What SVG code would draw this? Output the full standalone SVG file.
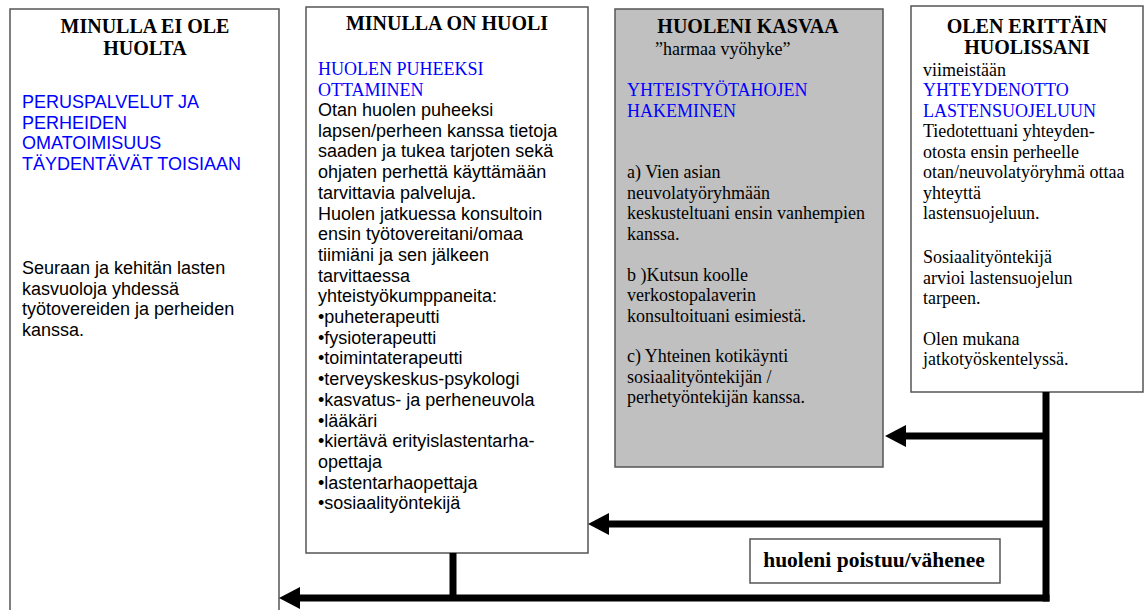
<svg xmlns="http://www.w3.org/2000/svg" width="1144" height="610" viewBox="0 0 1144 610">
<defs>
<style>
.box{fill:#fff;stroke:#555;stroke-width:1.5}
.gray{fill:#c0c0c0;stroke:#555;stroke-width:1.5}
.title{font-family:"Liberation Serif",serif;font-weight:bold;font-size:20px;fill:#000;text-anchor:middle}
.sans{font-family:"Liberation Sans",sans-serif;font-size:18px;fill:#000}
.serif{font-family:"Liberation Serif",serif;font-size:18px;fill:#000}
.blue{fill:#0000ff}
.conn{stroke:#000;stroke-width:7;fill:none}
</style>
<marker id="arr" markerUnits="userSpaceOnUse" markerWidth="22" markerHeight="24" refX="0" refY="12" orient="auto" viewBox="0 0 22 24">
<path d="M0,1 L21,12 L0,23 z" fill="#000"/>
</marker>
</defs>

<g id="node-ei-huolta">
<rect class="box" x="10" y="9" width="269" height="620"/>
<text class="title" x="145" y="33">MINULLA EI OLE</text>
<text class="title" x="145" y="55">HUOLTA</text>
<text class="sans blue" x="22" y="108">PERUSPALVELUT JA</text>
<text class="sans blue" x="22" y="128.5">PERHEIDEN</text>
<text class="sans blue" x="22" y="149">OMATOIMISUUS</text>
<text class="sans blue" x="22" y="169.5">TÄYDENTÄVÄT TOISIAAN</text>
<text class="sans" x="22" y="274">Seuraan ja kehitän lasten</text>
<text class="sans" x="22" y="294.5">kasvuoloja yhdessä</text>
<text class="sans" x="22" y="315">työtovereiden ja perheiden</text>
<text class="sans" x="22" y="335.5">kanssa.</text>
</g>

<g id="node-on-huoli">
<rect class="box" x="306" y="7" width="282" height="546"/>
<text class="title" x="447" y="30">MINULLA ON HUOLI</text>
<text class="serif blue" x="318" y="75">HUOLEN PUHEEKSI</text>
<text class="serif blue" x="318" y="95.5">OTTAMINEN</text>
<text class="sans" x="318" y="116">Otan huolen puheeksi</text>
<text class="sans" x="318" y="136.7">lapsen/perheen kanssa tietoja</text>
<text class="sans" x="318" y="157.4">saaden ja tukea tarjoten sekä</text>
<text class="sans" x="318" y="178.1">ohjaten perhettä käyttämään</text>
<text class="sans" x="318" y="198.8">tarvittavia palveluja.</text>
<text class="sans" x="318" y="219.5">Huolen jatkuessa konsultoin</text>
<text class="sans" x="318" y="240.2">ensin työtovereitani/omaa</text>
<text class="sans" x="318" y="260.9">tiimiäni ja sen jälkeen</text>
<text class="sans" x="318" y="281.6">tarvittaessa</text>
<text class="sans" x="318" y="302.3">yhteistyökumppaneita:</text>
<text class="sans" x="318" y="323">•puheterapeutti</text>
<text class="sans" x="318" y="343.7">•fysioterapeutti</text>
<text class="sans" x="318" y="364.4">•toimintaterapeutti</text>
<text class="sans" x="318" y="385.1">•terveyskeskus-psykologi</text>
<text class="sans" x="318" y="405.8">•kasvatus- ja perheneuvola</text>
<text class="sans" x="318" y="426.5">•lääkäri</text>
<text class="sans" x="318" y="447.2">•kiertävä erityislastentarha-</text>
<text class="sans" x="318" y="467.9">opettaja</text>
<text class="sans" x="318" y="488.6">•lastentarhaopettaja</text>
<text class="sans" x="318" y="509.3">•sosiaalityöntekijä</text>
</g>

<g id="node-kasvaa">
<rect class="gray" x="615" y="9" width="268" height="458"/>
<text class="title" x="748" y="33">HUOLENI KASVAA</text>
<text class="serif" x="655" y="55">”harmaa vyöhyke”</text>
<text class="serif blue" x="627" y="96">YHTEISTYÖTAHOJEN</text>
<text class="serif blue" x="627" y="116.5">HAKEMINEN</text>
<text class="serif" x="627" y="178">a) Vien asian</text>
<text class="serif" x="627" y="198.5">neuvolatyöryhmään</text>
<text class="serif" x="627" y="219">keskusteltuani ensin vanhempien</text>
<text class="serif" x="627" y="239.5">kanssa.</text>
<text class="serif" x="627" y="280.5">b )Kutsun koolle</text>
<text class="serif" x="627" y="301">verkostopalaverin</text>
<text class="serif" x="627" y="321.5">konsultoituani esimiestä.</text>
<text class="serif" x="627" y="362">c) Yhteinen kotikäynti</text>
<text class="serif" x="627" y="382.5">sosiaalityöntekijän /</text>
<text class="serif" x="627" y="403">perhetyöntekijän kanssa.</text>
</g>

<g id="node-erittain">
<rect class="box" x="911" y="6" width="232" height="386"/>
<text class="title" x="1027" y="33">OLEN ERITTÄIN</text>
<text class="title" x="1027" y="54">HUOLISSANI</text>
<text class="serif" x="923" y="75.5">viimeistään</text>
<text class="serif blue" x="923" y="96">YHTEYDENOTTO</text>
<text class="serif blue" x="923" y="116.5">LASTENSUOJELUUN</text>
<text class="serif" x="923" y="137">Tiedotettuani yhteyden-</text>
<text class="serif" x="923" y="157.5">otosta ensin perheelle</text>
<text class="serif" x="923" y="178">otan/neuvolatyöryhmä ottaa</text>
<text class="serif" x="923" y="198.5">yhteyttä</text>
<text class="serif" x="923" y="219">lastensuojeluun.</text>
<text class="serif" x="923" y="263">Sosiaalityöntekijä</text>
<text class="serif" x="923" y="283.5">arvioi lastensuojelun</text>
<text class="serif" x="923" y="304">tarpeen.</text>
<text class="serif" x="923" y="344.5">Olen mukana</text>
<text class="serif" x="923" y="365">jatkotyöskentelyssä.</text>
</g>

<g id="connectors">
<path class="conn" d="M1046,392 V601.5"/>
<path class="conn" d="M1046,436 H906" marker-end="url(#arr)"/>
<path class="conn" d="M1046,524 H609" marker-end="url(#arr)"/>
<path class="conn" d="M1049.5,598 H300" marker-end="url(#arr)"/>
<path class="conn" d="M453,553 V598"/>
</g>

<g id="label-poistuu">
<rect class="box" x="750" y="539" width="250" height="44"/>
<text class="title" x="874" y="567" style="font-size:21.5px">huoleni poistuu/vähenee</text>
</g>
</svg>
